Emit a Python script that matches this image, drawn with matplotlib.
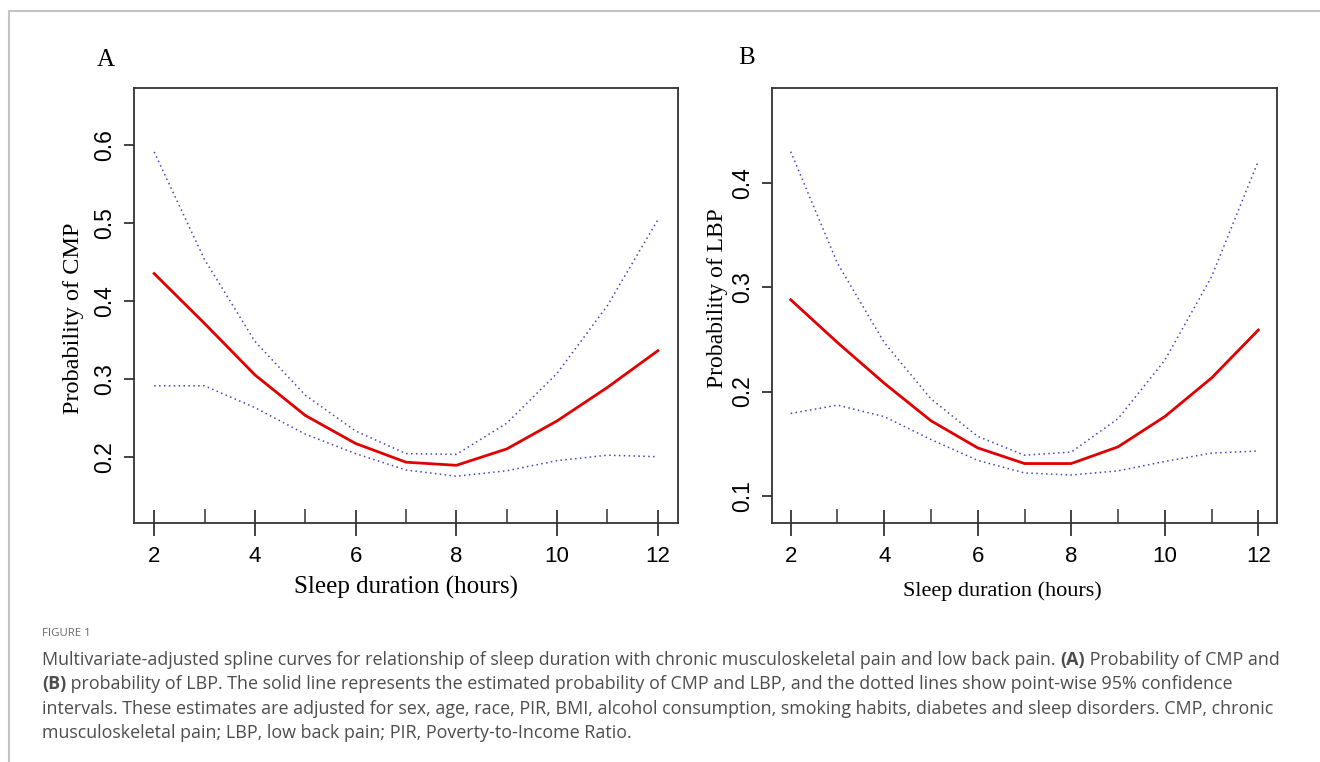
import numpy as np
import matplotlib
matplotlib.use('Agg')
import matplotlib.pyplot as plt
from matplotlib.lines import Line2D

# sleep duration (hours)
hours = [2, 3, 4, 5, 6, 7, 8, 9, 10, 11, 12]

# panel A: probability of CMP
cmp_fit = [0.435, 0.371, 0.305, 0.253, 0.217, 0.193, 0.189, 0.210, 0.246, 0.289, 0.336]
cmp_upper = [0.591, 0.453, 0.348, 0.279, 0.233, 0.204, 0.203, 0.243, 0.307, 0.394, 0.504]
cmp_lower = [0.291, 0.291, 0.263, 0.229, 0.204, 0.183, 0.175, 0.182, 0.195, 0.202, 0.200]

# panel B: probability of LBP
lbp_fit = [0.288, 0.247, 0.208, 0.172, 0.146, 0.131, 0.131, 0.147, 0.176, 0.213, 0.259]
lbp_upper = [0.430, 0.323, 0.247, 0.193, 0.157, 0.139, 0.142, 0.174, 0.230, 0.310, 0.421]
lbp_lower = [0.179, 0.187, 0.176, 0.154, 0.134, 0.122, 0.120, 0.124, 0.133, 0.141, 0.143]

major_x = [2, 4, 6, 8, 10, 12]
minor_x = [3, 5, 7, 9, 11]
yticks_A = [0.2, 0.3, 0.4, 0.5, 0.6]
yticks_B = [0.1, 0.2, 0.3, 0.4]

W, H = 1320, 762
fig = plt.figure(figsize=(W / 100, H / 100), dpi=100)
serif = ['Liberation Serif', 'DejaVu Serif']
sans = ['Liberation Sans', 'DejaVu Sans']
RED = '#e00000'
BLUE = '#4444c0'


def px(x, y):
    return x / W, 1 - y / H


def draw_panel(ax, fit, upper, lower, ylim, yticks):
    ax.plot(hours, upper, color=BLUE, lw=1.1, linestyle=(0, (1, 2.2)))
    ax.plot(hours, lower, color=BLUE, lw=1.1, linestyle=(0, (1, 2.2)))
    ax.plot(hours, fit, color=RED, lw=2.0)
    ax.set_xlim(1.6, 12.4)
    ax.set_ylim(*ylim)
    ax.set_xticks(major_x)
    ax.set_xticks(minor_x, minor=True)
    ax.set_yticks(yticks)
    ax.set_yticklabels([f'{v:.1f}' for v in yticks], rotation=90, va='center',
                       family=sans, fontsize=16.5)
    ax.set_xticklabels([str(v) for v in major_x], family=sans, fontsize=16)
    # R-style ticks: majors cross the box edge, minors only inside
    ax.tick_params(axis='x', which='major', direction='inout', length=19, width=1.2,
                   pad=7, color='#222222')
    ax.tick_params(axis='x', which='minor', direction='in', length=10, width=1.1,
                   color='#333333')
    ax.tick_params(axis='y', direction='out', length=7, width=1.2, pad=6,
                   color='#222222')
    for s in ax.spines.values():
        s.set_linewidth(1.3)
        s.set_color('#333333')


axA = fig.add_axes([134 / W, 1 - 523 / H, 544 / W, 435 / H])
draw_panel(axA, cmp_fit, cmp_upper, cmp_lower, (0.115, 0.673), yticks_A)
axB = fig.add_axes([772 / W, 1 - 523 / H, 505 / W, 435 / H])
draw_panel(axB, lbp_fit, lbp_upper, lbp_lower, (0.074, 0.491), yticks_B)

# panel letters and axis titles
fig.text(*px(106, 60), 'A', family=serif, fontsize=18, ha='center', va='center')
fig.text(*px(747, 58), 'B', family=serif, fontsize=18, ha='center', va='center')
fig.text(*px(406, 587), 'Sleep duration (hours)', family=serif, fontsize=18,
         ha='center', va='center')
fig.text(*px(1002, 591), 'Sleep duration (hours)', family=serif, fontsize=16,
         ha='center', va='center')
fig.text(*px(74, 318), 'Probability of CMP', family=serif, fontsize=17.5,
         rotation=90, ha='center', va='center')
fig.text(*px(718, 298), 'Probability of LBP', family=serif, fontsize=17,
         rotation=90, ha='center', va='center')

# outer frame (top and left edges)
fig.add_artist(Line2D([9 / W, 9 / W, 1], [0, 1 - 11 / H, 1 - 11 / H],
                      transform=fig.transFigure, color='#c4c4c4', lw=1.5))

# caption
cap_font = ['Open Sans', 'DejaVu Sans']
cap_color = '#4d4d4d'
fig.text(*px(42, 633), 'FIGURE 1', family=cap_font, fontsize=8.2, color='#666666',
         ha='left', va='center')

caption_lines = [
    [('Multivariate-adjusted spline curves for relationship of sleep duration with '
      'chronic musculoskeletal pain and low back pain. ', False), ('(A)', True),
     (' Probability of CMP and', False)],
    [('(B)', True), (' probability of LBP. The solid line represents the estimated '
                     'probability of CMP and LBP, and the dotted lines show point-wise '
                     '95% confidence', False)],
    [('intervals. These estimates are adjusted for sex, age, race, PIR, BMI, alcohol '
      'consumption, smoking habits, diabetes and sleep disorders. CMP, chronic', False)],
    [('musculoskeletal pain; LBP, low back pain; PIR, Poverty-to-Income Ratio.', False)],
]
line_y = [660, 684, 709, 733]

renderer = fig.canvas.get_renderer()
for parts, y in zip(caption_lines, line_y):
    x = 42
    for txt, bold in parts:
        t = fig.text(*px(x, y), txt, family=cap_font, fontsize=12.85, color=cap_color,
                     fontweight='bold' if bold else 'normal', ha='left', va='center')
        x += t.get_window_extent(renderer).width

fig.savefig('out.png', dpi=100)
